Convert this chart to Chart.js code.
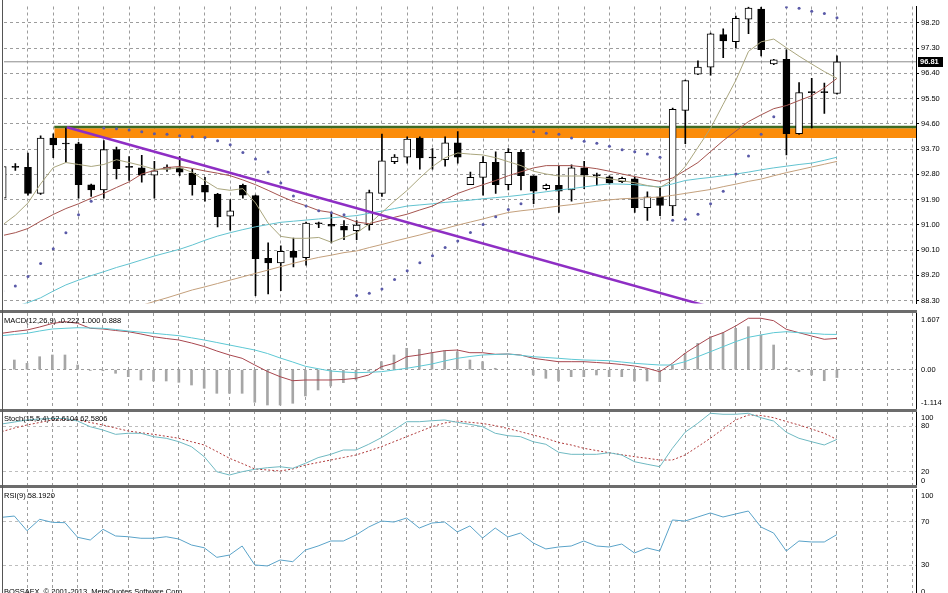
<!DOCTYPE html>
<html>
<head>
<meta charset="utf-8">
<script src="https://cdn.jsdelivr.net/npm/chart.js@4.4.1/dist/chart.umd.min.js"></script>
<style>
  html, body { margin: 0; padding: 0; background: #fff; }
  body { width: 948px; height: 593px; overflow: hidden; position: relative; font-family: "Liberation Sans", Arial, sans-serif; }
  canvas { position: absolute; left: 0; }
  .sep { position: absolute; left: 0; width: 917px; height: 3px; background: #6c6c6c; z-index: 2; }
  .edge { position: absolute; left: 2px; top: 0; width: 1px; height: 593px; background: #555; z-index: 2; }
  .lbl { position: absolute; left: 4px; font-size: 7.5px; line-height: 9px; color: #000; white-space: nowrap; z-index: 3; }
</style>
</head>
<body>
<canvas id="main" width="948" height="310" style="top:0"></canvas>
<canvas id="macd" width="948" height="96" style="top:313px"></canvas>
<canvas id="stoch" width="948" height="76" style="top:411px"></canvas>
<canvas id="rsi" width="948" height="109" style="top:489px"></canvas>
<div class="sep" style="top:310px"></div>
<div class="sep" style="top:409px"></div>
<div class="sep" style="top:485px"></div>
<div class="edge"></div>
<div class="lbl" style="top:316px">MACD(12,26,9) -0.222 1.000 0.888</div>
<div class="lbl" style="top:414px">Stoch(15,5,4) 62.6104 62.5806</div>
<div class="lbl" style="top:491px">RSI(9) 58.1920</div>
<div class="lbl" style="top:587px">BOSSAFX, © 2001-2013, MetaQuotes Software Corp.</div>
<script>
// ---- price bars (one per bar, oldest first) ----
const opens = [91.95, 93.05, 93.05, 92.12, 94.09, 93.88, 93.89, 92.43, 92.24, 93.68,
  93.05, 93.03, 92.77, 92.98, 93.03, 92.84, 92.41, 92.10, 91.31, 92.41,
  92.04, 89.81, 89.64, 90.06, 89.83, 91.04, 91.02, 90.95, 90.79, 91.01,
  92.12, 93.25, 93.41, 94.09, 93.38, 93.32, 93.92, 92.43, 92.69, 93.23,
  92.43, 93.58, 92.75, 92.29, 92.41, 92.24, 93.03, 92.75, 92.71, 92.54,
  92.64, 91.61, 92.00, 91.67, 95.08, 96.37, 96.62, 97.78, 97.53, 98.33,
  98.69, 96.73, 96.90, 94.25, 95.71, 95.71, 95.68];
const highs = [93.15, 93.18, 93.56, 94.17, 94.24, 94.45, 93.94, 92.45, 94.00, 93.77,
  93.43, 93.48, 93.26, 93.14, 93.43, 92.98, 92.69, 92.12, 91.90, 92.45,
  92.06, 90.36, 90.25, 90.53, 91.10, 91.10, 91.38, 91.15, 91.15, 92.24,
  94.23, 93.50, 94.14, 94.14, 93.72, 94.14, 94.32, 92.88, 93.43, 93.60,
  93.72, 93.66, 92.75, 92.45, 93.09, 93.14, 93.26, 92.84, 92.75, 92.70,
  92.69, 92.18, 92.35, 95.16, 96.16, 96.84, 97.83, 97.98, 98.44, 98.76,
  98.76, 96.90, 97.24, 96.07, 96.22, 96.05, 97.02];
const lows = [91.78, 92.94, 92.06, 92.08, 93.39, 93.22, 91.95, 92.01, 91.95, 92.64,
  92.58, 92.52, 91.95, 92.90, 92.75, 92.06, 91.84, 90.93, 90.81, 91.95,
  88.48, 88.54, 88.65, 89.50, 89.56, 90.90, 90.36, 90.47, 90.47, 90.81,
  92.01, 93.18, 93.20, 92.98, 92.98, 93.09, 93.20, 92.43, 92.06, 92.12,
  92.24, 92.24, 91.75, 92.24, 91.44, 91.84, 92.29, 92.41, 92.45, 92.50,
  91.44, 91.16, 91.33, 91.33, 93.89, 96.35, 96.33, 96.96, 97.30, 97.81,
  97.02, 96.71, 93.49, 94.22, 94.45, 94.97, 95.66];
const closes = [93.08, 93.05, 92.12, 94.09, 93.85, 93.89, 92.43, 92.24, 93.68, 93.00,
  93.05, 92.77, 92.92, 93.06, 92.88, 92.43, 92.16, 91.29, 91.50, 92.06,
  89.79, 89.64, 90.06, 89.84, 91.06, 91.04, 90.95, 90.81, 90.99, 92.15,
  93.28, 93.41, 94.06, 93.38, 93.38, 93.92, 93.41, 92.69, 93.23, 92.43,
  93.58, 92.75, 92.20, 92.41, 92.20, 93.03, 92.77, 92.75, 92.49, 92.66,
  91.61, 92.00, 91.69, 95.12, 96.14, 96.62, 97.81, 97.55, 98.36, 98.72,
  97.24, 96.88, 94.25, 95.71, 95.71, 95.71, 96.81];

// ---- moving averages on the price panel ----
const maFast = [91.00, 91.34, 91.78, 92.46, 93.04, 93.22, 93.15, 93.08, 93.15, 93.32,
  93.22, 93.11, 92.98, 92.98, 93.04, 92.87, 92.57, 92.29, 92.23, 92.29,
  91.78, 91.06, 90.59, 90.52, 90.52, 90.55, 90.38, 90.55, 90.72, 91.03,
  91.44, 91.85, 92.23, 92.67, 93.08, 93.39, 93.56, 93.52, 93.49, 93.39,
  93.25, 93.11, 92.91, 92.81, 92.74, 92.74, 92.74, 92.70, 92.64, 92.57,
  92.50, 92.40, 92.33, 92.60, 93.08, 93.76, 94.44, 95.30, 96.15, 97.18,
  97.52, 97.62, 97.31, 97.01, 96.73, 96.46, 96.22];
const maMid = [90.62, 90.72, 90.87, 91.13, 91.37, 91.58, 91.75, 91.95, 92.12, 92.33,
  92.53, 92.81, 92.94, 93.04, 93.08, 93.01, 92.92, 92.84, 92.75, 92.60,
  92.43, 92.23, 92.02, 91.83, 91.68, 91.51, 91.44, 91.27, 91.10, 91.04,
  91.16, 91.27, 91.38, 91.53, 91.67, 91.90, 92.12, 92.28, 92.43, 92.58,
  92.75, 92.89, 93.03, 93.11, 93.11, 93.11, 93.06, 93.00, 92.91, 92.81,
  92.72, 92.63, 92.55, 92.67, 92.94, 93.22, 93.61, 94.00, 94.34, 94.68,
  94.92, 95.14, 95.25, 95.43, 95.60, 95.88, 96.22];
const maSlow = [87.92, 88.09, 88.23, 88.40, 88.64, 88.86, 89.03, 89.19, 89.33, 89.48,
  89.61, 89.75, 89.89, 90.01, 90.13, 90.28, 90.45, 90.60, 90.72, 90.83,
  90.93, 91.01, 91.09, 91.13, 91.17, 91.21, 91.25, 91.29, 91.33, 91.41,
  91.49, 91.58, 91.67, 91.71, 91.75, 91.80, 91.84, 91.88, 91.93, 91.97,
  92.01, 92.06, 92.12, 92.18, 92.24, 92.29, 92.35, 92.41, 92.46, 92.45,
  92.43, 92.39, 92.35, 92.46, 92.58, 92.64, 92.69, 92.75, 92.81, 92.88,
  92.96, 93.03, 93.09, 93.15, 93.20, 93.30, 93.41];
const maLong = [null, null, null, null, null, null, null, null, null, null,
  87.99, 88.13, 88.27, 88.40, 88.54, 88.68, 88.79, 88.91, 89.03, 89.15,
  89.27, 89.39, 89.51, 89.63, 89.74, 89.84, 89.92, 90.01, 90.07, 90.19,
  90.30, 90.42, 90.53, 90.64, 90.76, 90.87, 90.99, 91.10, 91.21, 91.33,
  91.44, 91.50, 91.55, 91.61, 91.67, 91.72, 91.78, 91.84, 91.89, 91.93,
  91.95, 91.97, 91.99, 92.05, 92.12, 92.19, 92.26, 92.36, 92.45, 92.55,
  92.63, 92.75, 92.86, 92.96, 93.06, 93.16, 93.26];
const sar = [88.64, 88.82, 89.16, 89.62, 90.15, 90.72, 91.36, 91.84, 94.45, 94.42,
  94.38, 94.32, 94.25, 94.23, 94.17, 94.14, 94.11, 94.00, 93.85, 93.58,
  93.35, 92.88, 92.49, 92.03, 91.67, 91.50, 91.43, 91.36, 88.48, 88.56,
  88.71, 89.05, 89.36, 89.65, 89.90, 90.19, 90.42, 90.73, 91.01, 91.29,
  91.55, 91.75, 94.32, 94.26, 94.23, 94.09, 93.98, 93.91, 93.80, 93.68,
  93.60, 93.52, 93.41, 91.16, 91.20, 91.38, 91.75, 92.20, 92.81, 93.45,
  94.23, 94.85, 98.76, 98.72, 98.61, 98.53, 98.38];

// ---- drawn objects ----
const zoneStart = 4.08;          // bar where the orange zone begins
const zoneBand = [94.09, 94.44]; // orange zone low / high
const zoneLine = 94.49;          // dark green line on top of the zone
const trendFrom = [5.08, 94.48];
const trendTo = [56.0, 88.07];

// ---- MACD(12,26,9) ----
const macdMain = [1.032, 1.083, 1.125, 1.210, 1.310, 1.361, 1.315, 1.173, 1.154, 1.111,
  1.077, 1.012, 0.935, 0.884, 0.842, 0.757, 0.658, 0.530, 0.417, 0.323,
  0.133, -0.051, -0.198, -0.312, -0.292, -0.292, -0.292, -0.278, -0.244, -0.150,
  0.085, 0.181, 0.368, 0.417, 0.482, 0.539, 0.558, 0.482, 0.482, 0.437,
  0.445, 0.417, 0.323, 0.275, 0.227, 0.227, 0.227, 0.204, 0.181, 0.147,
  0.105, 0.040, -0.057, 0.181, 0.465, 0.700, 0.918, 1.049, 1.239, 1.457,
  1.457, 1.389, 1.145, 1.049, 0.955, 0.862, 0.888];
const macdSignal = [0.964, 0.998, 1.032, 1.097, 1.154, 1.173, 1.190, 1.182, 1.173, 1.139,
  1.097, 1.063, 1.032, 0.998, 0.964, 0.904, 0.842, 0.771, 0.700, 0.629,
  0.558, 0.459, 0.332, 0.218, 0.096, 0.028, -0.037, -0.065, -0.085, -0.074,
  -0.057, -0.009, 0.040, 0.099, 0.162, 0.247, 0.323, 0.374, 0.417, 0.431,
  0.445, 0.408, 0.368, 0.346, 0.323, 0.295, 0.275, 0.266, 0.255, 0.218,
  0.181, 0.156, 0.133, 0.133, 0.227, 0.368, 0.510, 0.652, 0.794, 0.918,
  0.984, 1.049, 1.077, 1.049, 1.032, 1.003, 1.000];
const macdHist = [0.133, 0.275, 0.181, 0.368, 0.417, 0.417, 0.133, -0.02, -0.03, -0.102,
  -0.198, -0.292, -0.320, -0.320, -0.357, -0.434, -0.527, -0.669, -0.669, -0.669,
  -0.924, -1.001, -1.001, -0.952, -0.745, -0.575, -0.462, -0.368, -0.292, -0.04,
  0.227, 0.417, 0.607, 0.578, 0.482, 0.539, 0.510, 0.275, 0.227, 0.040,
  0.0, 0.01, -0.150, -0.244, -0.320, -0.198, -0.198, -0.150, -0.198, -0.198,
  -0.320, -0.320, -0.340, 0.133, 0.465, 0.748, 0.935, 1.049, 1.173, 1.219,
  0.984, 0.700, 0.05, -0.057, -0.150, -0.312, -0.222];

// ---- Stoch(15,5,4) ----
const stochMain = [82.9, 85.5, 88.2, 89.5, 90.1, 90.1, 86.8, 79.3, 75.0, 69.3,
  70.7, 70.7, 66.2, 64.1, 59.6, 53.0, 39.9, 20.1, 15.8, 20.1,
  23.3, 25.4, 26.7, 24.6, 31.2, 38.6, 43.0, 48.7, 48.7, 56.2,
  64.9, 75.0, 85.9, 85.9, 87.2, 88.2, 85.1, 82.5, 79.3, 70.7,
  67.5, 66.2, 59.6, 56.2, 45.7, 43.0, 43.0, 43.0, 45.1, 42.1,
  33.3, 29.9, 26.7, 50.9, 72.0, 83.8, 97.0, 95.7, 95.7, 97.0,
  91.2, 86.8, 72.0, 64.1, 59.6, 55.3, 62.61];
const stochSignal = [72.8, 77.6, 81.6, 84.9, 88.2, 88.8, 88.2, 84.9, 81.6, 77.6,
  73.7, 71.4, 69.3, 66.7, 64.1, 59.6, 55.3, 46.7, 37.8, 30.9,
  23.7, 22.4, 21.1, 23.7, 28.9, 32.2, 35.5, 38.8, 42.1, 47.4,
  53.0, 59.6, 66.2, 72.8, 79.3, 84.2, 86.8, 85.1, 83.6, 80.7,
  77.0, 72.8, 68.4, 64.1, 58.6, 55.3, 50.9, 48.0, 45.1, 42.5,
  39.9, 37.8, 35.5, 35.5, 42.1, 53.0, 64.1, 76.3, 88.2, 94.7,
  94.1, 91.2, 86.2, 81.6, 76.3, 70.7, 62.58];

// ---- RSI(9) ----
const rsi = [74.0, 75.2, 61.7, 72.2, 69.4, 69.1, 55.7, 53.2, 63.0, 56.9,
  56.2, 54.8, 54.8, 56.2, 54.1, 48.6, 46.1, 37.3, 39.4, 47.7,
  30.3, 29.4, 34.9, 33.3, 44.0, 47.7, 52.3, 52.3, 57.8, 65.1,
  70.6, 69.7, 73.4, 64.2, 68.8, 69.7, 60.6, 66.1, 55.0, 64.2,
  56.0, 59.6, 50.5, 45.0, 46.8, 47.7, 52.3, 47.7, 46.8, 49.5,
  41.3, 45.9, 43.1, 71.6, 70.6, 74.3, 78.0, 74.3, 77.1, 79.8,
  65.1, 59.6, 43.1, 52.3, 51.4, 51.4, 58.19];

// ---- axis ticks ----
const priceTicks = [98.2, 97.3, 96.4, 95.5, 94.6, 93.7, 92.8, 91.9, 91.0, 90.1, 89.2, 88.3];
const macdTicks = [1.607, 0, -1.114];
const stochTicks = [100, 80, 20, 0];
const rsiTicks = [100, 70, 30, 0];
const gridBars = [];
for (let b = 2; b <= 72; b += 2) gridBars.push(b);

const X_MIN = 0.103, X_MAX = 72.25;
const bars = closes.map((_, i) => i);
const pts = arr => bars.map(i => ({ x: i, y: arr[i] }));

Chart.defaults.font.family = 'Liberation Sans';
Chart.defaults.font.size = 7.5;
Chart.defaults.color = '#000';

// right-hand labels for the indicator windows (top/bottom labels hug the edges)
const edgeLabels = {
  id: 'edgeLabels',
  afterDraw(chart, args, opts) {
    if (!opts.items || !opts.items.length) return;
    const { ctx, chartArea } = chart;
    const ys = chart.scales.y;
    ctx.save();
    ctx.font = '7.5px "Liberation Sans", Arial, sans-serif';
    ctx.fillStyle = '#000';
    ctx.textAlign = 'left';
    opts.items.forEach(it => {
      let py = ys.getPixelForValue(it.value);
      let base = 'middle';
      if (it.value >= ys.max) { base = 'top'; py += 3; }
      else if (it.value <= ys.min) { base = 'bottom'; py -= 2; }
      ctx.textBaseline = base;
      ctx.fillText(it.text, chartArea.right + 5, py);
    });
    ctx.restore();
  }
};

// black price tag for the last close
const bidTag = {
  id: 'bidTag',
  afterDraw(chart, args, opts) {
    if (opts.value == null) return;
    const { ctx, chartArea } = chart;
    const py = Math.round(chart.scales.y.getPixelForValue(opts.value));
    ctx.save();
    ctx.fillStyle = '#000';
    ctx.fillRect(chartArea.right + 2, py - 5, 25, 10);
    ctx.fillStyle = '#fff';
    ctx.font = 'bold 7.5px "Liberation Sans", Arial, sans-serif';
    ctx.textBaseline = 'middle';
    ctx.fillText(opts.value.toFixed(2), chartArea.right + 4, py);
    ctx.restore();
  }
};

function xScale() {
  return {
    type: 'linear', min: X_MIN, max: X_MAX, offset: false,
    afterBuildTicks: s => { s.ticks = gridBars.map(v => ({ value: v })); },
    afterFit: s => { s.height = 0; },
    ticks: { display: false },
    grid: { color: '#9c9c9c', drawTicks: false, offset: false },
    border: { display: false, dash: [3, 3] }
  };
}

function yScale(min, max, gridAt, gridColor, showTicks) {
  return {
    position: 'right', min, max, beginAtZero: false,
    afterBuildTicks: s => { s.ticks = gridAt.map(v => ({ value: v })); },
    afterFit: s => { s.width = 32; },
    ticks: { display: showTicks, padding: 2, autoSkip: false, callback: v => v.toFixed(2) },
    grid: { color: gridColor, drawTicks: showTicks, tickLength: 3, tickColor: '#000' },
    border: { display: true, color: '#000', width: 1, dash: [3, 3] }
  };
}

function makeChart(id, datasets, y, items, tag) {
  return new Chart(document.getElementById(id), {
    type: 'bar',
    data: { datasets },
    options: {
      responsive: false, animation: false, devicePixelRatio: 1, events: [],
      layout: { padding: { left: 3, right: 0, top: 0, bottom: 0 } },
      plugins: {
        legend: { display: false }, tooltip: { enabled: false },
        edgeLabels: { items: items || [] },
        bidTag: { value: tag }
      },
      scales: { x: xScale(), y }
    },
    plugins: [edgeLabels, bidTag]
  });
}

function line(arr, color, order, extra) {
  return Object.assign({
    type: 'line', data: pts(arr), borderColor: color, borderWidth: 1,
    pointRadius: 0, tension: 0, fill: false, order
  }, extra || {});
}

const last = closes[closes.length - 1];

// ---- price window ----
makeChart('main', [
  { type: 'line', data: [{ x: zoneStart, y: zoneBand[1] }, { x: X_MAX, y: zoneBand[1] }],
    borderWidth: 0, pointRadius: 0, fill: { value: zoneBand[0] }, backgroundColor: '#fb8c0a', order: 20 },
  { type: 'line', data: [{ x: zoneStart, y: zoneLine }, { x: X_MAX, y: zoneLine }],
    borderColor: '#3f6b22', borderWidth: 2.5, pointRadius: 0, order: 19 },
  { type: 'line', data: [{ x: X_MIN, y: last }, { x: X_MAX, y: last }],
    borderColor: '#8c8c8c', borderWidth: 1, pointRadius: 0, order: 18 },
  { type: 'bar', data: bars.map(i => ({ x: i, y: [lows[i], highs[i]] })),
    backgroundColor: '#000', borderWidth: 0, barThickness: 1, grouped: false, order: 12 },
  { type: 'bar', data: bars.map(i => ({ x: i, y: [opens[i], closes[i]] })),
    backgroundColor: c => (closes[c.dataIndex] - opens[c.dataIndex] > 0.015 ? '#fff' : '#000'),
    borderColor: '#000', borderWidth: 1, borderSkipped: false, barThickness: 7,
    minBarLength: 1, grouped: false, order: 11 },
  line(maLong, '#c4a07c', 8),
  line(maSlow, '#62c3d0', 7),
  line(maMid, '#a5544f', 6),
  line(maFast, '#aaa67e', 5),
  { type: 'line', data: pts(sar), showLine: false, pointRadius: 1.5, pointBorderWidth: 0,
    pointBackgroundColor: '#5a5aa8', borderColor: '#5a5aa8', order: 3 },
  { type: 'line', data: [{ x: trendFrom[0], y: trendFrom[1] }, { x: trendTo[0], y: trendTo[1] }],
    borderColor: '#8e2ec4', borderWidth: 2.5, pointRadius: 0, order: 1 }
], yScale(88.197, 98.78, priceTicks, '#9c9c9c', true), [], last);

// ---- MACD window ----
makeChart('macd', [
  { type: 'bar', data: pts(macdHist), backgroundColor: '#a6a6a6', borderWidth: 0,
    barThickness: 2, grouped: false, order: 5 },
  line(macdMain, '#a8464e', 3),
  line(macdSignal, '#5cc8d4', 2)
], yScale(-1.114, 1.607, [0], '#9c9c9c', false),
  macdTicks.map(v => ({ value: v, text: v === 0 ? '0.00' : v.toFixed(3) })));

// ---- Stochastic window ----
makeChart('stoch', [
  line(stochSignal, '#b03a3a', 3, { borderDash: [2, 2] }),
  line(stochMain, '#6fb9c2', 2)
], yScale(0, 100, [80, 20], '#bdbdbd', false),
  stochTicks.map(v => ({ value: v, text: String(v) })));

// ---- RSI window ----
makeChart('rsi', [
  line(rsi, '#5aa3c9', 2)
], yScale(0, 100, [70, 30], '#bdbdbd', false),
  rsiTicks.map(v => ({ value: v, text: String(v) })));
</script>
</body>
</html>
